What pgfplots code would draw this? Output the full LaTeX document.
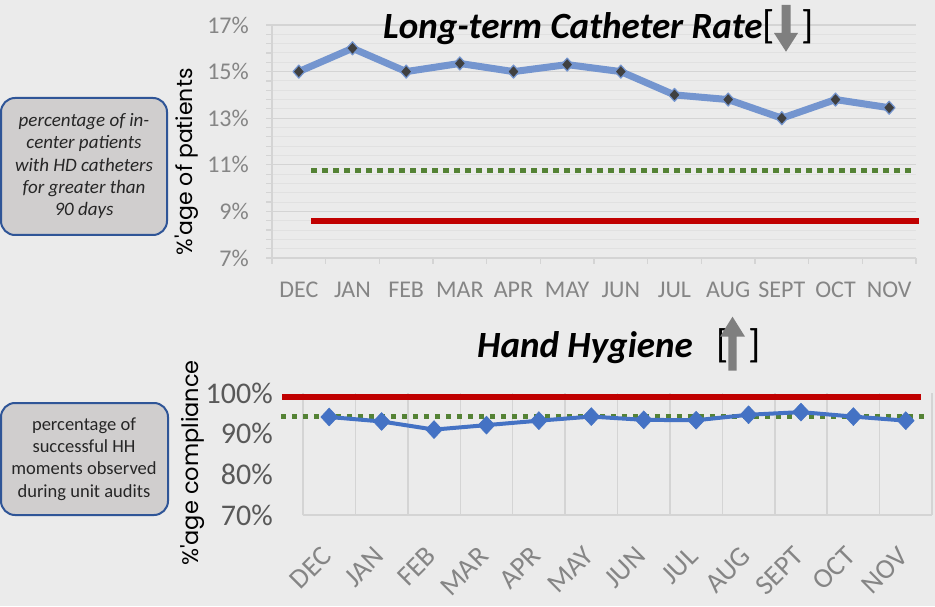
\documentclass[border=0pt]{standalone}
\usepackage{fontspec}
\setmainfont{Carlito}
\newfontfamily\pop{Poppins}
\usepackage{pgfplots}
\pgfplotsset{compat=1.18}
\pgfplotsset{/pgf/number format/assume math mode=true}

\definecolor{bg}{HTML}{EBEBEB}
\definecolor{redl}{HTML}{C00000}
\definecolor{greenl}{HTML}{548235}
\definecolor{bluel}{HTML}{4472C4}
\definecolor{bluet}{HTML}{7495CF}
\definecolor{darkm}{HTML}{404040}
\definecolor{tickc}{HTML}{858585}
\definecolor{tickd}{HTML}{595959}
\definecolor{gridmaj}{HTML}{D4D4D4}
\definecolor{gridmin}{HTML}{E1E1E1}
\definecolor{boxfill}{HTML}{D0CECE}
\definecolor{boxdraw}{HTML}{2F5597}
\definecolor{arrowc}{HTML}{7F7F7F}

\begin{document}
\begin{tikzpicture}[x=1pt,y=1pt]
\fill[bg] (0,0) rectangle (935,606);

% description boxes
\draw[boxdraw, fill=boxfill, line width=2pt, rounded corners=14pt] (1,508) rectangle (167,371);
\node[align=center, font=\fontsize{19}{22.3}\selectfont\itshape, text=black!85] at (84,440)
  {percentage of in-\\center patients\\with HD catheters\\for greater than\\90 days};
\draw[boxdraw, fill=boxfill, line width=2pt, rounded corners=14pt] (1,203) rectangle (168,91);
\node[align=center, font=\fontsize{18.5}{22.3}\selectfont, text=black!85] at (84,147)
  {percentage of\\successful HH\\moments observed\\during unit audits};

% ---------------- top chart ----------------
\begin{axis}[
  at={(272pt,348pt)}, anchor=south west, scale only axis,
  width=644pt, height=233pt,
  xmin=-0.5, xmax=11.5, ymin=7, ymax=17,
  clip=false,
  axis x line*=bottom, axis y line*=left,
  axis line style={draw=gridmaj, line width=1.2pt, -},
  xtick={0,...,11},
  xticklabels={DEC,JAN,FEB,MAR,APR,MAY,JUN,JUL,AUG,SEPT,OCT,NOV},
  minor xtick={-0.5,0.5,...,11.5},
  ytick={7,9,11,13,15,17},
  minor ytick={7,7.4,...,17.1},
  major tick length=0pt, minor tick length=6pt, tick align=outside,
  tick style={draw=gridmaj, line width=1.2pt},
  ymajorgrids, yminorgrids,
  major grid style={draw=gridmaj, line width=1.2pt},
  minor grid style={draw=gridmin, line width=1pt},
  yticklabel={\pgfmathprintnumber{\tick}\%},
  ticklabel style={font=\fontsize{24}{28}\selectfont, text=tickc},
  yticklabel style={inner sep=0pt, anchor=east, xshift=-23pt},
  xticklabel style={inner sep=0pt, anchor=north, yshift=-24pt},
  ylabel={\pop\%'age of patients},
  ylabel style={at={(rel axis cs:-0.132,0.412)}, anchor=center, font=\fontsize{22}{26}\selectfont},
]
\addplot[redl, line width=5.7pt] coordinates {(0.23,8.6) (11.55,8.6)};
\addplot[greenl, line width=5pt, dash pattern=on 5.5pt off 5.5pt] coordinates {(0.23,10.75) (11.46,10.75)};
\addplot[bluet, line width=7pt, line join=round, mark=diamond*, mark size=6.5pt,
  mark options={fill=darkm, draw=bluet, line width=1.2pt, xscale=1.2}]
  coordinates {(0,15) (1,16) (2,15) (3,15.35) (4,15) (5,15.3) (6,15) (7,14) (8,13.8) (9,13) (10,13.8) (11,13.45)};
\end{axis}

% top title
\node[anchor=base west, inner sep=0pt, font=\fontsize{37}{40}\selectfont\bfseries\itshape] at (383,567) {Long-term Catheter Rate};
\node[anchor=base west, inner sep=0pt, font=\fontsize{40}{40}\selectfont] at (762,567) {[};
\node[anchor=base west, inner sep=0pt, font=\fontsize{40}{40}\selectfont] at (801,567) {]};
\fill[arrowc] (781.7,601) -- (790.7,601) -- (790.7,573) -- (798,573) -- (786,554.3) -- (774,573) -- (781.7,573) -- cycle;

% ---------------- bottom chart ----------------
\begin{axis}[
  at={(303pt,91pt)}, anchor=south west, scale only axis,
  width=629pt, height=122pt,
  xmin=-0.5, xmax=11.5, ymin=70, ymax=100,
  clip=false,
  axis x line*=bottom, axis y line*=left,
  axis line style={draw=gridmaj, line width=1.5pt, -},
  xtick={0,...,11},
  xticklabels={DEC,JAN,FEB,MAR,APR,MAY,JUN,JUL,AUG,SEPT,OCT,NOV},
  minor xtick={-0.5,0.5,...,11.5},
  ytick={70,80,90,100},
  major tick length=0pt, minor tick length=0pt,
  xminorgrids,
  minor grid style={draw=gridmaj, line width=1.5pt},
  yticklabel={\pgfmathprintnumber{\tick}\%},
  yticklabel style={font=\fontsize{30}{34}\selectfont, text=tickd, inner sep=0pt, anchor=east, xshift=-30pt},
  xticklabel style={font=\fontsize{28}{32}\selectfont, text=tickc, inner sep=0pt, xshift=-9pt, yshift=-30pt, rotate=45, anchor=north east},
  ylabel={\pop\%'age compliance},
  ylabel style={at={(rel axis cs:-0.176,0.426)}, anchor=center, font=\fontsize{22.5}{26}\selectfont},
]
\addplot[redl, line width=6pt] coordinates {(-0.9,99) (11.29,99)};
\addplot[greenl, line width=5pt, dash pattern=on 5.5pt off 5.5pt] coordinates {(-0.92,94.2) (11.4,94.2)};
\addplot[bluel, line width=4pt, line join=round, mark=diamond*, mark size=9pt,
  mark options={fill=bluel, draw=bluel, line width=0.5pt, xscale=1.25}]
  coordinates {(0,94.1) (1,93.0) (2,91.0) (3,92.1) (4,93.2) (5,94.2) (6,93.4) (7,93.3) (8,94.65) (9,95.3) (10,94.2) (11,93.2)};
\end{axis}

% bottom title
\node[anchor=base west, inner sep=0pt, font=\fontsize{37}{40}\selectfont\bfseries\itshape] at (477,248) {Hand Hygiene};
\node[anchor=base west, inner sep=0pt, font=\fontsize{40}{40}\selectfont] at (716,248) {[};
\node[anchor=base west, inner sep=0pt, font=\fontsize{40}{40}\selectfont] at (748,248) {]};
\fill[arrowc] (728.3,235.3) -- (736.7,235.3) -- (736.7,269.3) -- (745,269.3) -- (732.5,289.3) -- (720,269.3) -- (728.3,269.3) -- cycle;
\end{tikzpicture}
\end{document}
